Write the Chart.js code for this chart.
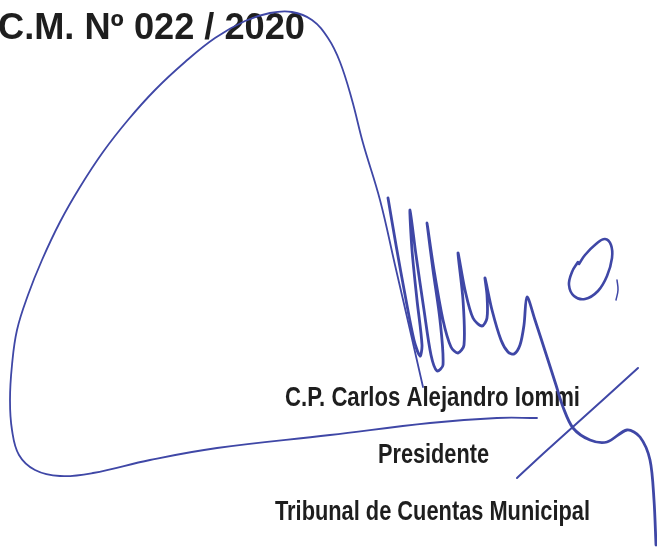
<!DOCTYPE html>
<html>
<head>
<meta charset="utf-8">
<script src="https://cdn.jsdelivr.net/npm/chart.js@4.4.0/dist/chart.umd.min.js"></script>
<style>
  body { margin: 0; background: #fff; }
  #firma { display: block; }
</style>
</head>
<body>
<canvas id="firma" width="657" height="551"></canvas>
<script>
// textos del documento
var textLines = ['C.M. Nº 022 / 2020', 'C.P. Carlos Alejandro Iommi', 'Presidente', 'Tribunal de Cuentas Municipal'];

// trazo grande (linea inferior + arco + bajada)
var loopX = [537, 497, 430, 330, 217, 150, 93, 60, 35, 19, 12, 10, 12, 17, 28, 42, 60, 80, 103, 128, 155, 185, 215, 245, 270, 292, 312, 328, 340, 352, 363, 380, 395, 410, 423];
var loopY = [418, 418, 423, 435, 448, 460, 473, 476, 470, 455, 430, 400, 365, 330, 295, 260, 222, 187, 152, 120, 90, 62, 38, 21, 13, 12, 20, 38, 62, 100, 143, 200, 265, 330, 387];

// garabato
var scribX = [388, 396, 406, 414, 420, 422, 417, 412, 410, 416, 424, 431, 437, 443, 440, 433, 427, 434, 443, 451, 458, 464, 463, 458, 465, 473, 482, 487, 487, 485, 492, 501, 508, 514, 520, 524, 527, 535, 547, 556, 563, 573, 590, 607, 627, 640, 650, 654, 656];
var scribY = [198, 245, 300, 340, 356, 345, 300, 250, 210, 255, 310, 355, 371, 365, 320, 270, 223, 270, 320, 347, 353, 345, 300, 253, 290, 318, 326, 318, 295, 278, 310, 340, 352, 354, 345, 325, 297, 320, 357, 385, 407, 428, 440, 442, 430, 437, 460, 500, 545];

// cruz
var crossX = [517, 545, 575, 605, 638];
var crossY = [478, 452, 425, 398, 368];

// "O" y coma
var ovalX = [578, 572, 569, 574, 585, 598, 607, 612, 611, 605, 596, 585, 579];
var ovalY = [262, 272, 285, 296, 299, 291, 276, 258, 245, 239, 244, 255, 264];
var commaX = [617, 618, 616];
var commaY = [280, 290, 300];

function pts(xs, ys) {
  return xs.map(function (x, i) { return { x: x, y: ys[i] }; });
}

var ink = '#3f47a6';

function stroke(label, xs, ys, width, tension) {
  return {
    label: label,
    data: pts(xs, ys),
    showLine: true,
    borderColor: ink,
    backgroundColor: ink,
    borderWidth: width,
    pointRadius: 0,
    tension: tension,
    borderCapStyle: 'round',
    borderJoinStyle: 'round'
  };
}

// textos dibujados antes de la tinta
var textPlugin = {
  id: 'textos',
  beforeDatasetsDraw: function (chart) {
    var c = chart.ctx;
    var layout = [
      { x: -2, y: 39, size: 36, w: 307 },
      { x: 285, y: 406, size: 27, w: 295 },
      { x: 378, y: 463, size: 27, w: 111 },
      { x: 275, y: 520, size: 27, w: 315 }
    ];
    c.save();
    c.fillStyle = '#1e1e1e';
    c.textBaseline = 'alphabetic';
    textLines.forEach(function (t, i) {
      var l = layout[i];
      c.font = 'bold ' + l.size + 'px "Liberation Sans", Arial, sans-serif';
      var m = c.measureText(t).width;
      c.save();
      c.translate(l.x, l.y);
      c.scale(l.w / m, 1);
      c.fillText(t, 0, 0);
      c.restore();
    });
    c.restore();
  }
};

const ctx = document.getElementById('firma').getContext('2d');
const myChart = new Chart(ctx, {
  type: 'scatter',
  data: {
    datasets: [
      stroke('arco', loopX, loopY, 1.8, 0.4),
      stroke('garabato', scribX, scribY, 2.8, 0.3),
      stroke('cruz', crossX, crossY, 2, 0.3),
      stroke('o', ovalX, ovalY, 2.6, 0.4),
      stroke('coma', commaX, commaY, 1.5, 0.4)
    ]
  },
  options: {
    responsive: false,
    animation: false,
    layout: { padding: 0 },
    plugins: {
      legend: { display: false },
      tooltip: { enabled: false }
    },
    scales: {
      x: { type: 'linear', min: 0, max: 657, display: false },
      y: { type: 'linear', min: 0, max: 551, reverse: true, display: false }
    }
  },
  plugins: [textPlugin]
});
</script>
</body>
</html>
